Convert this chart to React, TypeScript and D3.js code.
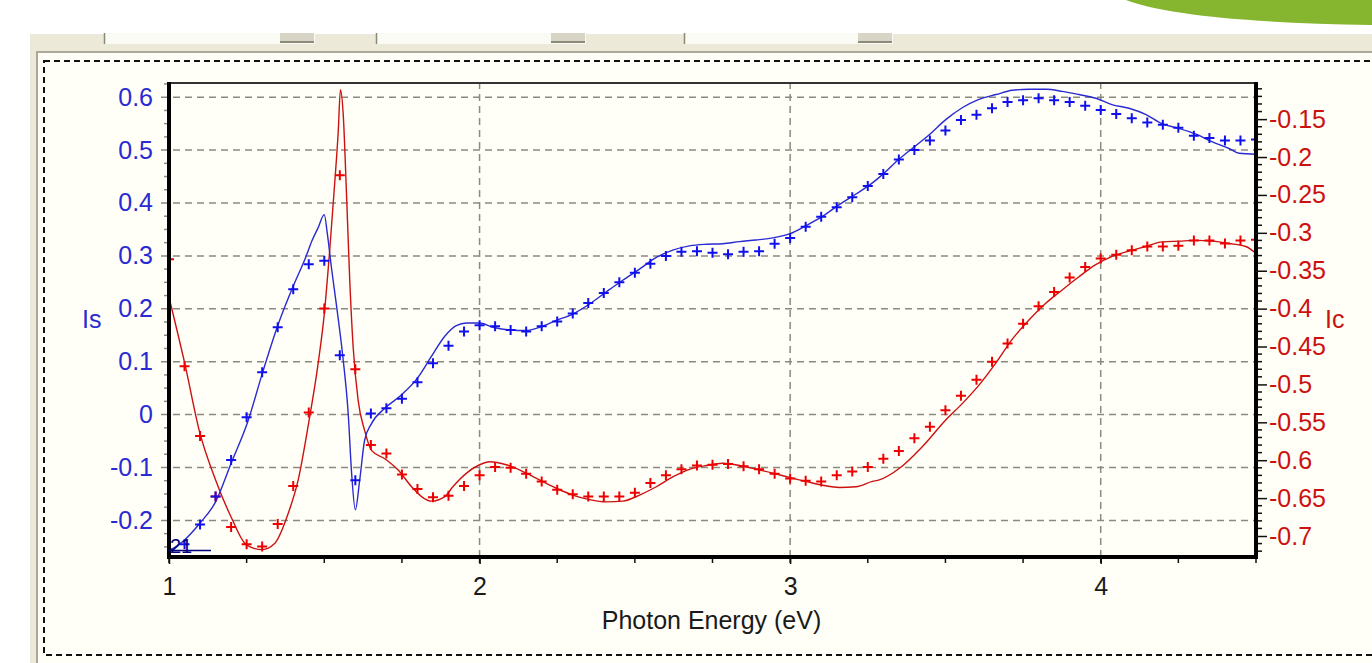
import React, { useEffect, useRef } from 'react';
import * as d3 from 'd3';

// photon energies (eV) of the measured points
const energies = [
  1.0, 1.05, 1.1, 1.15, 1.2, 1.25, 1.3, 1.35, 1.4, 1.45,
  1.5, 1.55, 1.6, 1.65, 1.7, 1.75, 1.8, 1.85, 1.9, 1.95,
  2.0, 2.05, 2.1, 2.15, 2.2, 2.25, 2.3, 2.35, 2.4, 2.45,
  2.5, 2.55, 2.6, 2.65, 2.7, 2.75, 2.8, 2.85, 2.9, 2.95,
  3.0, 3.05, 3.1, 3.15, 3.2, 3.25, 3.3, 3.35, 3.4, 3.45,
  3.5, 3.55, 3.6, 3.65, 3.7, 3.75, 3.8, 3.85, 3.9, 3.95,
  4.0, 4.05, 4.1, 4.15, 4.2, 4.25, 4.3, 4.35, 4.4, 4.45, 4.5,
];

// Is measured (left axis)
const isMeasured = [
  -0.255, -0.245, -0.208, -0.155, -0.086, -0.005, 0.08, 0.165, 0.237, 0.284,
  0.291, 0.112, -0.124, 0.002, 0.012, 0.03, 0.061, 0.097, 0.13, 0.157,
  0.169, 0.167, 0.16, 0.157, 0.167, 0.176, 0.191, 0.211, 0.23, 0.25,
  0.268, 0.285, 0.3, 0.308, 0.309, 0.306, 0.303, 0.308, 0.309, 0.323,
  0.334, 0.355, 0.374, 0.392, 0.411, 0.432, 0.455, 0.482, 0.5, 0.518,
  0.537, 0.557, 0.567, 0.579, 0.591, 0.594, 0.598, 0.594, 0.591, 0.584,
  0.576, 0.568, 0.56, 0.552, 0.548, 0.542, 0.527, 0.523, 0.518, 0.518, 0.52,
];

// Ic measured (right axis)
const icMeasured = [
  -0.335, -0.476, -0.568, -0.648, -0.688, -0.711, -0.714, -0.684, -0.634, -0.537,
  -0.4, -0.224, -0.48, -0.58, -0.591, -0.619, -0.638, -0.649, -0.647, -0.634,
  -0.62, -0.609, -0.61, -0.618, -0.628, -0.639, -0.645, -0.648, -0.648, -0.648,
  -0.643, -0.63, -0.62, -0.612, -0.607, -0.606, -0.605, -0.608, -0.612, -0.618,
  -0.624, -0.627, -0.628, -0.62, -0.615, -0.609, -0.598, -0.588, -0.571, -0.556,
  -0.534, -0.515, -0.494, -0.47, -0.446, -0.42, -0.397, -0.378, -0.359, -0.345,
  -0.334, -0.329, -0.323, -0.318, -0.318, -0.317, -0.31, -0.31, -0.314, -0.31, -0.309,
];

// fitted Is curve
const isFitEnergy = [
  1.0, 1.05, 1.1, 1.15, 1.2, 1.255, 1.3, 1.35, 1.4, 1.44, 1.46, 1.48, 1.5, 1.51,
  1.523, 1.54, 1.56, 1.577, 1.588, 1.6, 1.614, 1.63, 1.652, 1.695, 1.748, 1.8,
  1.845, 1.888, 1.925, 1.958, 2.0, 2.043, 2.097, 2.151, 2.193, 2.247, 2.3, 2.354,
  2.408, 2.461, 2.515, 2.569, 2.622, 2.676, 2.73, 2.783, 2.837, 2.89, 2.944, 3.0,
  3.051, 3.105, 3.158, 3.212, 3.265, 3.3, 3.351, 3.393, 3.448, 3.502, 3.554, 3.608,
  3.663, 3.715, 3.769, 3.824, 3.876, 3.93, 3.985, 4.036, 4.091, 4.146, 4.197, 4.252,
  4.307, 4.358, 4.413, 4.445, 4.5,
];
const isFit = [
  -0.258, -0.237, -0.205, -0.165, -0.092, -0.011, 0.077, 0.168, 0.243, 0.297, 0.328, 0.353, 0.378, 0.341,
  0.278, 0.203, 0.108, 0.002, -0.111, -0.18, -0.124, -0.048, -0.017, 0.012, 0.037, 0.069,
  0.11, 0.148, 0.168, 0.173, 0.173, 0.165, 0.16, 0.159, 0.165, 0.178, 0.19, 0.209,
  0.232, 0.254, 0.275, 0.297, 0.311, 0.319, 0.322, 0.323, 0.327, 0.33, 0.334, 0.342,
  0.357, 0.375, 0.397, 0.417, 0.438, 0.455, 0.483, 0.503, 0.529, 0.558, 0.58, 0.596,
  0.605, 0.613, 0.615, 0.615, 0.611, 0.605, 0.598, 0.586, 0.579, 0.567, 0.55, 0.541,
  0.53, 0.516, 0.503, 0.494, 0.492,
];

// fitted Ic curve
const icFitEnergy = [
  1.0, 1.05, 1.1, 1.15, 1.2, 1.25, 1.3, 1.34, 1.384, 1.416, 1.45, 1.48, 1.5, 1.518,
  1.534, 1.545, 1.552, 1.561, 1.572, 1.582, 1.593, 1.609, 1.63, 1.652, 1.695, 1.738,
  1.781, 1.813, 1.845, 1.888, 1.914, 1.958, 2.0, 2.033, 2.086, 2.14, 2.193, 2.247,
  2.3, 2.354, 2.408, 2.461, 2.515, 2.569, 2.622, 2.676, 2.73, 2.783, 2.837, 2.89,
  2.944, 3.0, 3.051, 3.105, 3.158, 3.212, 3.265, 3.287, 3.351, 3.426, 3.501, 3.555,
  3.608, 3.662, 3.716, 3.769, 3.823, 3.877, 3.93, 3.984, 4.037, 4.091, 4.145, 4.198,
  4.252, 4.306, 4.359, 4.413, 4.467, 4.5,
];
const icFit = [
  -0.385, -0.471, -0.565, -0.626, -0.675, -0.712, -0.718, -0.71, -0.67, -0.626, -0.55, -0.473, -0.407, -0.32,
  -0.232, -0.166, -0.111, -0.144, -0.254, -0.363, -0.451, -0.521, -0.561, -0.587, -0.598, -0.613,
  -0.635, -0.648, -0.654, -0.648, -0.635, -0.617, -0.606, -0.602, -0.606, -0.615, -0.626, -0.637,
  -0.646, -0.652, -0.655, -0.654, -0.646, -0.635, -0.622, -0.612, -0.607, -0.604, -0.607, -0.612,
  -0.617, -0.623, -0.628, -0.633, -0.636, -0.635, -0.628, -0.626, -0.611, -0.582, -0.547, -0.525,
  -0.501, -0.472, -0.44, -0.415, -0.393, -0.375, -0.358, -0.342, -0.331, -0.324, -0.318, -0.312,
  -0.311, -0.31, -0.311, -0.314, -0.318, -0.327,
];

const xTicks = [1, 2, 3, 4];
const isTicks = [-0.2, -0.1, 0, 0.1, 0.2, 0.3, 0.4, 0.5, 0.6];
const icTicks = [-0.7, -0.65, -0.6, -0.55, -0.5, -0.45, -0.4, -0.35, -0.3, -0.25, -0.2, -0.15];

const PhotonChart = () => {
  const svgRef = useRef<SVGSVGElement>(null);

  useEffect(() => {
    const W = 1372;
    const H = 663;
    const left = 169, right = 1256, top = 82, bottom = 557;
    const font = "'Liberation Sans', Arial, sans-serif";
    const blue = '#2a2ad2';
    const red = '#cc1111';

    const svg = d3.select(svgRef.current);
    svg.selectAll('*').remove();
    svg.attr('width', W).attr('height', H);

    const x = d3.scaleLinear().domain([1, 4.5]).range([left, right]);
    const yL = d3.scaleLinear().domain([-0.2692, 0.6287]).range([bottom, top]);
    const yR = d3.scaleLinear().domain([-0.7277, -0.101]).range([bottom, top]);

    // surroundings: slide, window, panel
    svg.append('rect').attr('width', W).attr('height', H).attr('fill', '#ffffff');
    svg.append('path').attr('d', 'M1126,0 Q1185,22 1372,25 L1372,0 Z').attr('fill', '#86b52f');
    svg.append('rect').attr('x', 30).attr('y', 34).attr('width', W - 30).attr('height', H - 34).attr('fill', '#ece9d8');

    [[104, 315], [376, 586], [684, 893]].forEach(([a, b]) => {
      svg.append('rect').attr('x', a).attr('y', 33).attr('width', b - a).attr('height', 11).attr('fill', '#fbfbf5');
      svg.append('line').attr('x1', a + 0.5).attr('x2', a + 0.5).attr('y1', 33).attr('y2', 44).attr('stroke', '#8c8878').attr('stroke-width', 1.5);
      svg.append('rect').attr('x', b - 35).attr('y', 33).attr('width', 34).attr('height', 9).attr('fill', '#d9d5c6');
      svg.append('line').attr('x1', b - 35).attr('x2', b - 1).attr('y1', 42).attr('y2', 42).attr('stroke', '#8e8a7a').attr('stroke-width', 2);
    });

    svg.append('rect').attr('x', 37).attr('y', 52).attr('width', W).attr('height', H)
      .attr('fill', '#fffff7').attr('stroke', '#aca899').attr('stroke-width', 2);
    svg.append('rect').attr('x', 44).attr('y', 61).attr('width', W).attr('height', 594)
      .attr('fill', 'none').attr('stroke', '#111').attr('stroke-width', 2).attr('stroke-dasharray', '6,4');

    // grid
    const grid = svg.append('g').attr('stroke', '#8a8a80').attr('stroke-width', 1.5).attr('stroke-dasharray', '7,5');
    isTicks.forEach(v => {
      grid.append('line').attr('x1', left - 8).attr('x2', right).attr('y1', yL(v)).attr('y2', yL(v));
    });
    xTicks.filter(v => v > 1).forEach(v => {
      grid.append('line').attr('x1', x(v)).attr('x2', x(v)).attr('y1', top).attr('y2', bottom);
    });

    // minor ticks
    d3.range(-0.25, 0.63, 0.025).filter(v => Math.round(v * 40) % 4 !== 0).forEach(v => {
      svg.append('line').attr('x1', left - 5).attr('x2', left).attr('y1', yL(v)).attr('y2', yL(v))
        .attr('stroke', '#8f8f85').attr('stroke-width', 1.5);
    });
    d3.range(-0.72, -0.1, 0.01).filter(v => Math.round(v * 100) % 5 !== 0).forEach(v => {
      svg.append('line').attr('x1', right).attr('x2', right + 6).attr('y1', yR(v)).attr('y2', yR(v))
        .attr('stroke', '#111').attr('stroke-width', 1.5);
    });
    d3.range(1, 4.51, 0.25).forEach(v => {
      svg.append('line').attr('x1', x(v)).attr('x2', x(v)).attr('y1', bottom).attr('y2', bottom + 6)
        .attr('stroke', '#111').attr('stroke-width', 1.5);
    });

    // curves and points
    svg.append('clipPath').attr('id', 'plot-clip')
      .append('rect').attr('x', left).attr('y', top).attr('width', right - left).attr('height', bottom - top);
    const data = svg.append('g').attr('clip-path', 'url(#plot-clip)');

    const lineIs = d3.line<number>().x((d, i) => x(isFitEnergy[i])).y(d => yL(d)).curve(d3.curveMonotoneX);
    const lineIc = d3.line<number>().x((d, i) => x(icFitEnergy[i])).y(d => yR(d)).curve(d3.curveMonotoneX);

    data.append('path').attr('d', lineIc(icFit)).attr('fill', 'none').attr('stroke', red).attr('stroke-width', 1.4);
    data.append('path').attr('d', lineIs(isFit)).attr('fill', 'none').attr('stroke', blue).attr('stroke-width', 1.4);

    const plus = (cx: number, cy: number, color: string) => {
      data.append('path')
        .attr('d', `M${cx - 5},${cy}H${cx + 5}M${cx},${cy - 5}V${cy + 5}`)
        .attr('stroke', color).attr('stroke-width', 2).attr('fill', 'none');
    };
    energies.forEach((e, i) => plus(x(e), yR(icMeasured[i]), '#ee0000'));
    energies.forEach((e, i) => plus(x(e), yL(isMeasured[i]), '#1010ee'));

    // frame of the plot
    svg.append('line').attr('x1', left).attr('x2', right).attr('y1', top + 1).attr('y2', top + 1).attr('stroke', '#333').attr('stroke-width', 2);
    svg.append('line').attr('x1', left).attr('x2', left).attr('y1', top).attr('y2', bottom + 2).attr('stroke', '#000').attr('stroke-width', 4);
    svg.append('line').attr('x1', right).attr('x2', right).attr('y1', top).attr('y2', bottom + 2).attr('stroke', '#000').attr('stroke-width', 4);
    svg.append('line').attr('x1', left - 2).attr('x2', right + 2).attr('y1', bottom).attr('y2', bottom).attr('stroke', '#000').attr('stroke-width', 4);

    // axes
    const gL = svg.append('g').attr('transform', `translate(${left},0)`)
      .call(d3.axisLeft(yL).tickValues(isTicks).tickSize(0).tickPadding(16).tickFormat(d => String(d)));
    const gR = svg.append('g').attr('transform', `translate(${right},0)`)
      .call(d3.axisRight(yR).tickValues(icTicks).tickSize(11).tickPadding(2).tickFormat(d => String(d)));
    const gB = svg.append('g').attr('transform', `translate(0,${bottom})`)
      .call(d3.axisBottom(x).tickValues(xTicks).tickSize(7).tickPadding(13).tickFormat(d => String(d)));

    [gL, gR, gB].forEach(g => {
      g.select('.domain').remove();
      g.selectAll('text').attr('font-family', font).attr('font-size', 25);
      g.selectAll('line').attr('stroke', '#111').attr('stroke-width', 1.5);
    });
    gL.selectAll('text').attr('fill', blue);
    gR.selectAll('text').attr('fill', red);
    gB.selectAll('text').attr('fill', '#1a1a1a');

    svg.append('text').attr('x', 82).attr('y', 328).attr('fill', blue)
      .attr('font-family', font).attr('font-size', 25).text('Is');
    svg.append('text').attr('x', 1325).attr('y', 328).attr('fill', red)
      .attr('font-family', font).attr('font-size', 25).text('Ic');
    svg.append('text').attr('x', (left + right) / 2 - 1).attr('y', 629).attr('text-anchor', 'middle')
      .attr('fill', '#1a1a1a').attr('font-family', font).attr('font-size', 25).text('Photon Energy (eV)');

    // small series marker in the corner
    svg.append('text').attr('x', 170).attr('y', 553).attr('fill', '#000080')
      .attr('font-family', font).attr('font-size', 20).text('21');
    svg.append('line').attr('x1', 168).attr('x2', 211).attr('y1', 550.5).attr('y2', 550.5)
      .attr('stroke', '#000080').attr('stroke-width', 1.5);
  }, []);

  return (
    <svg ref={svgRef} style={{ position: 'absolute', left: 0, top: 0 }}></svg>
  );
};

export default function App() {
  return <PhotonChart />;
}
